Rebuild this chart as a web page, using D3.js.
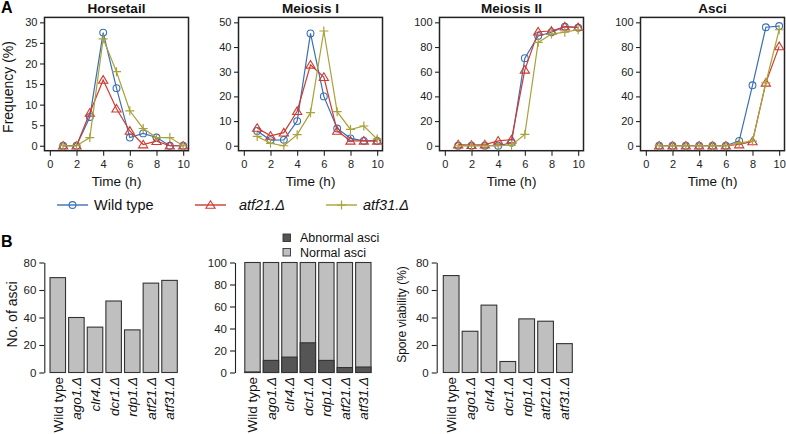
<!DOCTYPE html>
<html><head><meta charset="utf-8">
<script src="https://cdn.jsdelivr.net/npm/d3@7"></script>
<style>
body{margin:0;background:#fff;}
svg{display:block;font-family:"Liberation Sans",Arial,Helvetica,sans-serif;}
</style></head>
<body><svg id="c" width="786" height="434"></svg>
<script>
// ---------- DATA ----------
const hours = [1,2,3,4,5,6,7,8,9,10];
const seriesNames = ["Wild type","atf21.Δ","atf31.Δ"];
const panelTitles = ["Horsetail","Meiosis I","Meiosis II","Asci"];
const panelYMax = [30,50,100,100];
const panelYStep = [5,10,20,20];
const xTicks = [0,2,4,6,8,10];

const horsetailWT    = [0,0,7,27.5,14,2,3,2,0,0];
const horsetailAtf21 = [0,0,8,16,9,3.6,0.3,1.1,0,0];
const horsetailAtf31 = [0,0,2,26,18,8.5,4.2,2,2,0];

const meiosis1WT    = [6,2.3,2.4,10,45.5,20,7,3,2,2];
const meiosis1Atf21 = [7.2,4,5.3,14,32.8,27.8,6,2,2,2];
const meiosis1Atf31 = [3.8,1,0,4.5,13.4,46.5,13.8,6.6,8,2.7];

const meiosis2WT    = [0,0,0,0,2.4,71,89,92,96.5,95.6];
const meiosis2Atf21 = [1,0.5,1,4,5,61.5,92.4,93,96.5,96];
const meiosis2Atf31 = [0,0,0,0,0.5,9.2,83.7,90.5,92,94];

const asciWT    = [0,0,0,0,0,0,4,49,96,97];
const asciAtf21 = [0,0,0,0,0,0,1,3.5,51,80.5];
const asciAtf31 = [0,0,0,0,0,0,2.4,3.8,51,94];

const strains = ["Wild type","ago1.Δ","clr4.Δ","dcr1.Δ","rdp1.Δ","atf21.Δ","atf31.Δ"];
const noOfAsci = [69,40,33,52,31,65,67];
const abnormalAsci = [0.5,11,14,27,11,4.5,5];
const sporeViability = [70.5,30,49,8,39,37.3,21];
const bLegend = ["Abnormal asci","Normal asci"];

// ---------- STYLE ----------
const colors = ["#3b6fb6","#cf3a30","#a9a23a"];
const svg = d3.select("#c");
const ink = "#222";

// ---------- PANEL A ----------
const panelData = [
  [horsetailWT,horsetailAtf21,horsetailAtf31],
  [meiosis1WT,meiosis1Atf21,meiosis1Atf31],
  [meiosis2WT,meiosis2Atf21,meiosis2Atf31],
  [asciWT,asciAtf21,asciAtf31]
];
const boxLefts = [44.5,238.5,439.5,640.5];
const boxW = 144, boxTop = 17.4, boxBottom = 150.7;

function marker(g, k, x, y, col){
  if(k===0){
    g.append("circle").attr("cx",x).attr("cy",y).attr("r",3.4)
     .attr("fill","none").attr("stroke",col).attr("stroke-width",1.1);
  } else if(k===1){
    g.append("path").attr("transform",`translate(${x},${y})`)
     .attr("d","M0,-4.3L4.6,3.3L-4.6,3.3Z")
     .attr("fill","none").attr("stroke",col).attr("stroke-width",1.1);
  } else {
    g.append("path").attr("transform",`translate(${x},${y})`)
     .attr("d","M-4.5,0H4.5M0,-4.5V4.5")
     .attr("fill","none").attr("stroke",col).attr("stroke-width",1.2);
  }
}

panelData.forEach((series,p)=>{
  const L = boxLefts[p], R = L+boxW;
  const ymax = panelYMax[p];
  const x = d3.scaleLinear().domain([-0.4,10.4]).range([L,R]);
  const y = d3.scaleLinear().domain([-0.04*ymax,1.04*ymax]).range([boxBottom,boxTop]);
  const g = svg.append("g");
  const yTicks = d3.range(0,ymax+0.001,panelYStep[p]);
  const ya = g.append("g").attr("transform",`translate(${L},0)`)
    .call(d3.axisLeft(y).tickValues(yTicks).tickSize(4.5).tickPadding(2.5));
  const xa = g.append("g").attr("transform",`translate(0,${boxBottom})`)
    .call(d3.axisBottom(x).tickValues(xTicks).tickSize(5).tickPadding(5));
  [ya,xa].forEach(a=>{
    a.select(".domain").remove();
    a.selectAll("line").attr("stroke",ink).attr("stroke-width",1.1);
    a.selectAll("text").attr("fill",ink).style("font-size","11px")
      .style("font-family",'"Liberation Sans",Arial,sans-serif');
  });
  g.append("rect").attr("x",L).attr("y",boxTop).attr("width",boxW).attr("height",boxBottom-boxTop)
    .attr("fill","none").attr("stroke",ink).attr("stroke-width",1.5);
  g.append("text").attr("x",(L+R)/2).attr("y",13).attr("text-anchor","middle")
    .style("font-weight","bold").style("font-size","13.5px").attr("fill","#111").text(panelTitles[p]);
  g.append("text").attr("x",(L+R)/2).attr("y",186).attr("text-anchor","middle")
    .style("font-size","13.5px").attr("fill","#111").text("Time (h)");
  series.forEach((vals,k)=>{
    const line = d3.line().x((d,i)=>x(hours[i])).y(d=>y(d));
    g.append("path").datum(vals).attr("d",line).attr("fill","none")
      .attr("stroke",colors[k]).attr("stroke-width",1.2);
    vals.forEach((v,i)=>marker(g,k,x(hours[i]),y(v),colors[k]));
  });
});
svg.append("text").attr("x",8).attr("y",87).attr("transform","rotate(-90,8,87)")
  .attr("dy","0.35em").attr("text-anchor","middle").style("font-size","14px").attr("fill","#111")
  .text("Frequency (%)");
svg.append("text").attr("x",1).attr("y",13).style("font-weight","bold").style("font-size","16px").text("A");

// legend A
const legX = [57,195,326];
const legTextX = [94,239,363];
seriesNames.forEach((n,k)=>{
  const g = svg.append("g");
  g.append("line").attr("x1",legX[k]).attr("x2",legX[k]+31).attr("y1",205).attr("y2",205)
    .attr("stroke",colors[k]).attr("stroke-width",1.4);
  marker(g,k,legX[k]+15.5,205,colors[k]);
  g.append("text").attr("x",legTextX[k]).attr("y",205).attr("dy","0.35em")
    .style("font-size","14.5px").style("font-style",k===0?"normal":"italic").attr("fill","#111").text(n);
});

// ---------- PANEL B ----------
svg.append("text").attr("x",1).attr("y",247).style("font-weight","bold").style("font-size","16px").text("B");
const bBottom = 372.5, bTop = 262.5;
function barPanel(axisX, barL, barR, ymax, step, label, labelX, labelSize){
  const y = d3.scaleLinear().domain([0,ymax]).range([bBottom,bTop]);
  const x = d3.scaleBand().domain(strains).range([barL,barR]).paddingInner(0.1667).paddingOuter(0);
  const g = svg.append("g");
  const ya = g.append("g").attr("transform",`translate(${axisX},0)`)
    .call(d3.axisLeft(y).tickValues(d3.range(0,ymax+0.01,step)).tickSize(5).tickPadding(3).tickSizeOuter(0));
  ya.select(".domain").attr("stroke",ink).attr("stroke-width",1.1);
  ya.selectAll("line").attr("stroke",ink).attr("stroke-width",1.1);
  ya.selectAll("text").attr("fill",ink).style("font-size","11.5px")
    .style("font-family",'"Liberation Sans",Arial,sans-serif');
  strains.forEach((s,i)=>{
    g.append("text").attr("transform",`translate(${x(s)+x.bandwidth()/2},377) rotate(-90)`)
      .attr("text-anchor","end").attr("dy","0.36em").style("font-size","13.5px")
      .style("font-style",i===0?"normal":"italic").attr("fill","#111").text(s);
  });
  if(label){
    svg.append("text").attr("transform",`translate(${labelX},${(bTop+bBottom)/2-3}) rotate(-90)`)
      .attr("text-anchor","middle").attr("dy","0.35em").style("font-size",labelSize).attr("fill","#111").text(label);
  }
  return {g,x,y};
}
// B1
{
  const {g,x,y} = barPanel(44.3,50,177.3,80,20,"No. of asci",12,"14px");
  strains.forEach((s,i)=>{
    g.append("rect").attr("x",x(s)).attr("width",x.bandwidth()).attr("y",y(noOfAsci[i]))
      .attr("height",y(0)-y(noOfAsci[i])).attr("fill","#bfbfbf").attr("stroke","#333").attr("stroke-width",1.1);
  });
}
// B2
{
  const {g,x,y} = barPanel(235,244.8,371,100,20,null);
  strains.forEach((s,i)=>{
    g.append("rect").attr("x",x(s)).attr("width",x.bandwidth()).attr("y",y(100))
      .attr("height",y(0)-y(100)).attr("fill","#bfbfbf").attr("stroke","#333").attr("stroke-width",1.1);
    g.append("rect").attr("x",x(s)).attr("width",x.bandwidth()).attr("y",y(abnormalAsci[i]))
      .attr("height",y(0)-y(abnormalAsci[i])).attr("fill","#555").attr("stroke","#333").attr("stroke-width",1.1);
  });
  const lc = ["#555","#bfbfbf"];
  bLegend.forEach((t,k)=>{
    svg.append("rect").attr("x",283).attr("y",234+k*14.5).attr("width",7.5).attr("height",7.5)
      .attr("fill",lc[k]).attr("stroke","#333").attr("stroke-width",0.9);
    svg.append("text").attr("x",300).attr("y",238+k*14.5).attr("dy","0.35em")
      .style("font-size","12.5px").attr("fill","#111").text(t);
  });
}
// B3
{
  const {g,x,y} = barPanel(436.7,443.3,572.3,80,20,"Spore viability (%)",401.5,"12px");
  strains.forEach((s,i)=>{
    g.append("rect").attr("x",x(s)).attr("width",x.bandwidth()).attr("y",y(sporeViability[i]))
      .attr("height",y(0)-y(sporeViability[i])).attr("fill","#bfbfbf").attr("stroke","#333").attr("stroke-width",1.1);
  });
}
</script></body></html>
